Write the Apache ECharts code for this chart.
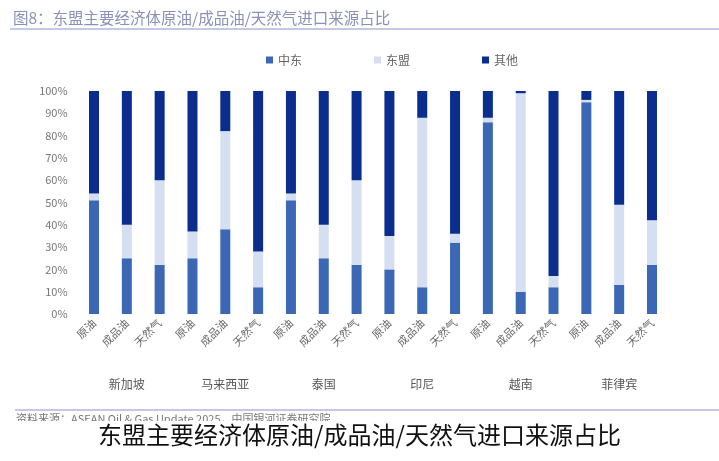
<!DOCTYPE html>
<html><head><meta charset="utf-8">
<script src="https://cdn.jsdelivr.net/npm/echarts@6/dist/echarts.min.js"></script>
<style>html,body{margin:0;padding:0;background:#fff}#c{width:719px;height:461px}</style>
</head><body><div id="c"></div>
<script>
const categories = ['原油','成品油','天然气','原油','成品油','天然气','原油','成品油','天然气','原油','成品油','天然气','原油','成品油','天然气','原油','成品油','天然气'];
const countries = ['新加坡','马来西亚','泰国','印尼','越南','菲律宾'];
const middleEast = [51,25,22,25,38,12,51,25,22,20,12,32,86,10,12,95,13,22];
const asean      = [3,15,38,12,44,16,3,15,38,15,76,4,2,89,5,1,36,20];
const others     = [46,60,40,63,18,72,46,60,40,65,12,64,12,1,83,4,51,58];
const yTicks = [0,10,20,30,40,50,60,70,80,90,100];

const FONT = '"Noto Sans CJK SC", "Noto Sans", sans-serif';
const chart = echarts.init(document.getElementById('c'));
function s(name, data, color){
  return {name, type:'bar', stack:'t', data, barWidth:10, xAxisIndex:0,
    itemStyle:{color}, emphasis:{disabled:true}};
}
chart.setOption({
  animation:false,
  textStyle:{fontFamily:FONT},
  title:{text:'图8：东盟主要经济体原油/成品油/天然气进口来源占比', left:8, top:5,
    textStyle:{fontSize:15.5, fontWeight:'normal', color:'#8991b8', fontFamily:FONT}},
  legend:{top:49, left:261, itemWidth:7, itemHeight:7, itemGap:72,
    icon:'rect', textStyle:{fontSize:12, color:'#666'},
    data:['中东','东盟','其他']},
  grid:{left:77.6, right:50.6, top:91, bottom:147},
  xAxis:[
    {type:'category', data:categories, axisLine:{show:false}, axisTick:{show:false},
      axisLabel:{rotate:45, fontSize:11, color:'#666', margin:7, interval:0}},
    {type:'category', data:countries, position:'bottom', offset:56,
      axisLine:{show:false}, axisTick:{show:false},
      axisLabel:{fontSize:12, color:'#555', interval:0}}
  ],
  yAxis:{type:'value', min:0, max:100, interval:10,
    axisLine:{show:false}, axisTick:{show:false}, splitLine:{show:false},
    axisLabel:{formatter:v=>v+'%', fontSize:11, color:'#777', margin:10}},
  series:[
    s('中东', middleEast, '#3c67b4'),
    s('东盟', asean, '#d4dff1'),
    s('其他', others, '#0b2d8d')
  ],
  graphic:[
    {type:'line', shape:{x1:10,y1:29,x2:719,y2:29}, style:{stroke:'#b2b5de', lineWidth:1.5}, z:10},
    {type:'line', shape:{x1:15,y1:410,x2:719,y2:410}, style:{stroke:'#b2b5de', lineWidth:1.5}, z:10},
    {type:'text', left:16, top:413, style:{text:'资料来源：ASEAN Oil & Gas Update 2025，中国银河证券研究院', fontSize:11, fill:'#777', fontFamily:FONT}, z:10},
    {type:'rect', shape:{x:0,y:421,width:719,height:40}, style:{fill:'#fff'}, z:20},
    {type:'text', left:'center', top:423, style:{text:'东盟主要经济体原油/成品油/天然气进口来源占比', fontSize:24, fill:'#111', fontFamily:FONT}, z:30}
  ]
});
</script></body></html>
